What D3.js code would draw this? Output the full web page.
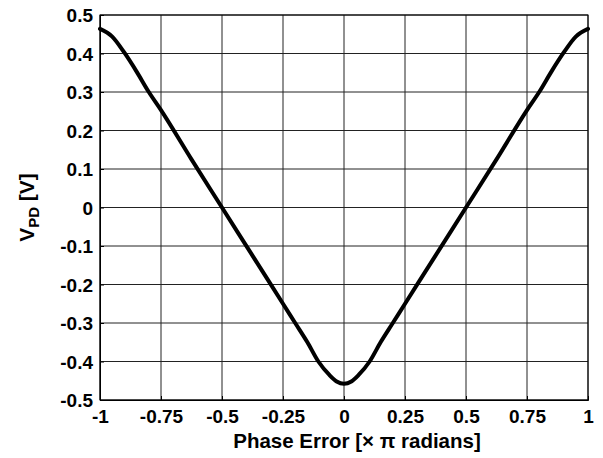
<!DOCTYPE html>
<html>
<head>
<meta charset="utf-8">
<script src="https://cdn.jsdelivr.net/npm/d3@7"></script>
<style>
  body { margin: 0; background: #fff; }
  text { font-family: "Liberation Sans", Arial, sans-serif; font-weight: bold; fill: #000; }
</style>
</head>
<body>
<div id="chart"></div>
<script>
// phase error (x pi rad) and detector output voltage
const phase = [-1, -0.95, -0.9, -0.85, -0.8, -0.75, -0.625, -0.5, -0.375, -0.25, -0.2, -0.15, -0.105, -0.06, -0.03, 0,
  0.03, 0.06, 0.105, 0.15, 0.2, 0.25, 0.375, 0.5, 0.625, 0.75, 0.8, 0.85, 0.9, 0.95, 1]
const vpd = [0.464, 0.444, 0.402, 0.353, 0.30, 0.253, 0.125, 0.0, -0.125, -0.25, -0.3, -0.35, -0.4, -0.435, -0.452, -0.458,
  -0.452, -0.435, -0.4, -0.35, -0.3, -0.25, -0.125, 0.0, 0.125, 0.253, 0.30, 0.353, 0.402, 0.444, 0.464]

const xTicks = [-1, -0.75, -0.5, -0.25, 0, 0.25, 0.5, 0.75, 1]
const yTicks = [-0.5, -0.4, -0.3, -0.2, -0.1, 0, 0.1, 0.2, 0.3, 0.4, 0.5]

const data = phase.map((p, i) => ({ label: p, data: vpd[i] }))

const width = 603
const height = 458
const margin = { top: 15, right: 15, bottom: 58, left: 100 }

const x = d3.scaleLinear()
  .domain([-1, 1])
  .range([margin.left, width - margin.right])

const y = d3.scaleLinear()
  .domain([-0.5, 0.5])
  .range([height - margin.bottom, margin.top])

const svg = d3.select('#chart').append('svg')
  .attr('width', width)
  .attr('height', height)

// grid
svg.append('g')
  .selectAll('line')
  .data(xTicks)
  .join('line')
  .attr('x1', d => x(d)).attr('x2', d => x(d))
  .attr('y1', y(-0.5)).attr('y2', y(0.5))
  .attr('stroke', '#222')
  .attr('stroke-width', 1)

svg.append('g')
  .selectAll('line')
  .data(yTicks)
  .join('line')
  .attr('x1', x(-1)).attr('x2', x(1))
  .attr('y1', d => y(d)).attr('y2', d => y(d))
  .attr('stroke', '#222')
  .attr('stroke-width', 1)

const fmt = d => String(d)

const xAxis = g => g
  .attr('transform', `translate(0,${y(-0.5)})`)
  .call(d3.axisBottom(x).tickValues(xTicks).tickFormat(fmt).tickSize(-4).tickPadding(10))

const yAxis = g => g
  .attr('transform', `translate(${x(-1)},0)`)
  .call(d3.axisLeft(y).tickValues(yTicks).tickFormat(fmt).tickSize(-4).tickPadding(7))

svg.append('g').call(xAxis)
  .call(g => g.selectAll('text').attr('font-size', 19).attr('dy', '0.71em'))
svg.append('g').call(yAxis)
  .call(g => g.selectAll('text').attr('font-size', 19).attr('dy', '0.36em'))

svg.selectAll('.domain').attr('stroke', '#000')

svg.append('rect')
  .attr('x', x(-1)).attr('y', y(0.5))
  .attr('width', x(1) - x(-1)).attr('height', y(-0.5) - y(0.5))
  .attr('fill', 'none').attr('stroke', '#000').attr('stroke-width', 1)

const line = d3.line()
  .curve(d3.curveMonotoneX)
  .x(d => x(d.label))
  .y(d => y(d.data))

svg.append('path')
  .datum(data)
  .attr('fill', 'none')
  .attr('stroke', '#000')
  .attr('stroke-width', 4)
  .attr('stroke-linejoin', 'round')
  .attr('stroke-linecap', 'round')
  .attr('d', line)

svg.append('text')
  .attr('x', 357)
  .attr('y', 448)
  .attr('text-anchor', 'middle')
  .attr('font-size', 20.5)
  .text('Phase Error [\u00d7 \u03c0 radians]')

const yl = svg.append('text')
  .attr('transform', `translate(34,${y(0)}) rotate(-90)`)
  .attr('text-anchor', 'middle')
  .attr('font-size', 21)
yl.append('tspan').text('V')
yl.append('tspan').attr('font-size', 15).attr('dy', 5).text('PD')
yl.append('tspan').attr('dy', -5).text(' [V]')
</script>
</body>
</html>
